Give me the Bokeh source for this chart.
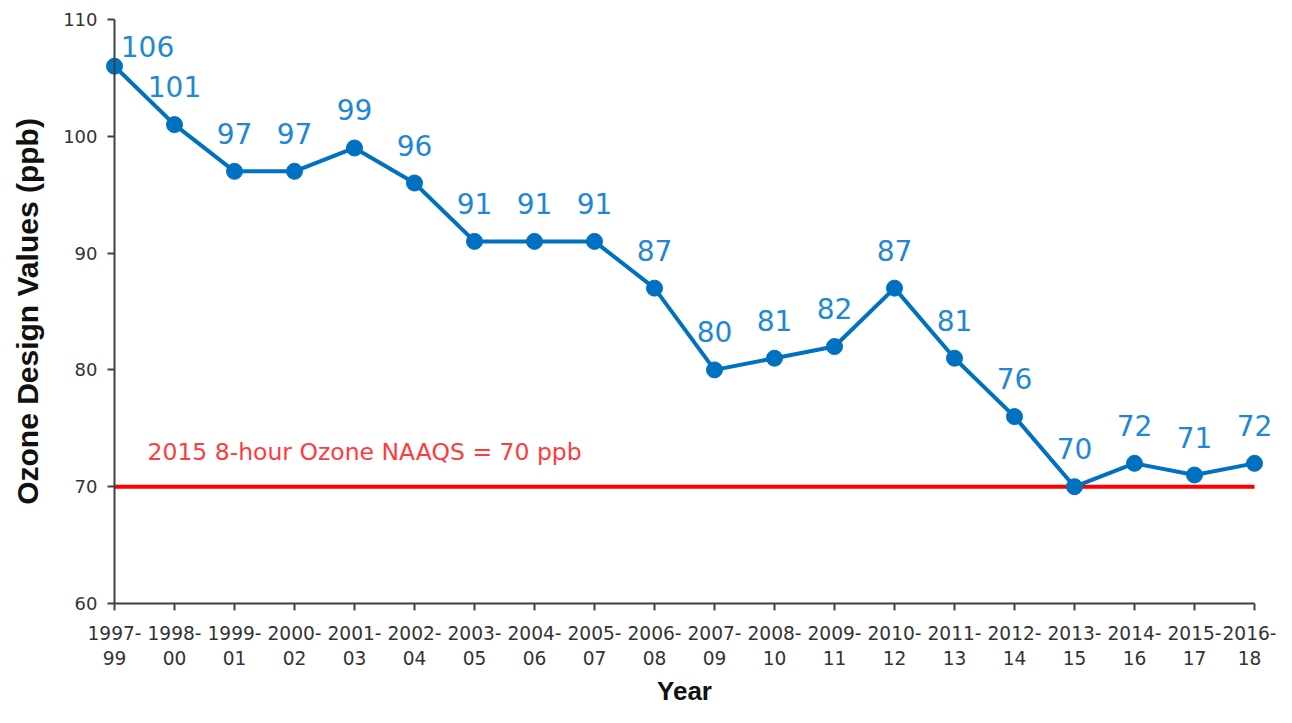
from bokeh.plotting import figure
from bokeh.models import Range1d, FixedTicker, ColumnDataSource, Label, LabelSet
from bokeh.core.properties import value
from bokeh.embed import file_html
from bokeh.resources import INLINE

periods = ["1997-99", "1998-00", "1999-01", "2000-02", "2001-03", "2002-04",
           "2003-05", "2004-06", "2005-07", "2006-08", "2007-09", "2008-10",
           "2009-11", "2010-12", "2011-13", "2012-14", "2013-15", "2014-16",
           "2015-17", "2016-18"]
design_values = [106, 101, 97, 97, 99, 96, 91, 91, 91, 87, 80, 81, 82, 87, 81,
                 76, 70, 72, 71, 72]
naaqs_level = 70
naaqs_text = "2015 8-hour Ozone NAAQS = 70 ppb"
y_ticks = [60, 70, 80, 90, 100, 110]

xs = list(range(len(periods)))
tick_labels = {i: p.replace("-", "-\n") for i, p in enumerate(periods)}

x_off = [0.0] * len(xs)
y_off = [38.0] * len(xs)
x_off[0] = 33.0
y_off[0] = 20.0

src = ColumnDataSource(dict(x=xs, y=design_values,
                            label=[str(v) for v in design_values],
                            xo=x_off, yo=y_off))

# layout (pixels) -- the plotting area spans the whole canvas so nothing is clipped
W, H = 1276, 707
ax_left, ax_right, ax_top, ax_bottom = 114, 1254, 19, 603
ymin, ymax = y_ticks[0], y_ticks[-1]
ppx = (ax_right - ax_left) / (xs[-1] - xs[0])
ppy = (ax_bottom - ax_top) / (ymax - ymin)
x_rng = Range1d(xs[0] - ax_left / ppx, xs[-1] + (W - ax_right) / ppx)
y_rng = Range1d(ymin - (H - ax_bottom) / ppy, ymax + ax_top / ppy)

p = figure(width=W, height=H, output_backend="svg", toolbar_location=None,
           x_range=x_rng, y_range=y_rng,
           min_border_left=0, min_border_right=0, min_border_top=0,
           min_border_bottom=0)
p.outline_line_color = None
p.xgrid.visible = False
p.ygrid.visible = False
p.background_fill_color = "white"
p.border_fill_color = "white"

# reference standard line
p.line(x=[xs[0], xs[-1]], y=[naaqs_level, naaqs_level], line_color="#ff0000",
       line_width=4)

p.line("x", "y", source=src, line_color="#0070c0", line_width=4)
p.scatter("x", "y", source=src, size=16, fill_color="#0070c0",
          line_color="#0070c0")
p.add_layout(LabelSet(x="x", y="y", text="label", source=src,
                      x_offset="xo", y_offset="yo",
                      text_align="center", text_baseline="middle",
                      text_font=value("DejaVu Sans"), text_font_size="28px",
                      text_color="#1e88d4"))

p.add_layout(Label(x=0.55, y=72.95, text=naaqs_text, text_align="left",
                   text_baseline="middle", text_font="DejaVu Sans",
                   text_font_size="23.5px", text_color="#ff3b3b"))

for ax in (p.xaxis[0], p.yaxis[0]):
    ax.axis_line_color = "#404040"
    ax.axis_line_width = 2
    ax.major_tick_line_color = "#404040"
    ax.major_tick_line_width = 2
    ax.major_tick_out = 7
    ax.major_tick_in = 0
    ax.minor_tick_line_color = None
    ax.major_label_text_color = "#333333"
    ax.major_label_text_font = "DejaVu Sans"
    ax.axis_label_text_font = "Liberation Sans"
    ax.axis_label_text_font_style = "bold"
    ax.axis_label_text_color = "#111111"

p.xaxis.ticker = FixedTicker(ticks=xs)
p.xaxis.bounds = (xs[0], xs[-1])
p.xaxis.fixed_location = ymin
p.xaxis.major_label_overrides = tick_labels
p.xaxis.major_label_text_font_size = "18.6px"
p.xaxis.major_label_standoff = 12
p.xaxis.axis_label = "Year"
p.xaxis.axis_label_text_font_size = "26px"
p.xaxis.axis_label_standoff = 4

p.yaxis.ticker = FixedTicker(ticks=y_ticks)
p.yaxis.bounds = (ymin, ymax)
p.yaxis.fixed_location = xs[0]
p.yaxis.major_label_text_font_size = "18px"
p.yaxis.major_label_standoff = 10
p.yaxis.axis_label = "Ozone Design Values (ppb)"
p.yaxis.axis_label_text_font_size = "30px"
p.yaxis.axis_label_standoff = 16

open("out.html", "w").write(file_html(p, INLINE))
